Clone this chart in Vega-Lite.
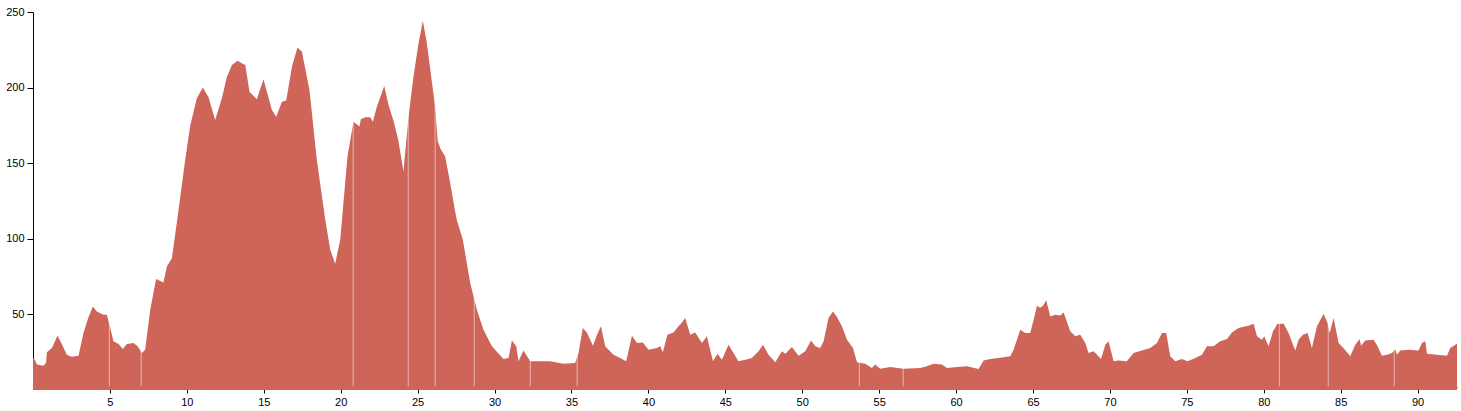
{
  "$schema": "https://vega.github.io/schema/vega-lite/v6.json",
  "width": 1424,
  "height": 375,
  "autosize": {"type": "none"},
  "padding": {"left": 33, "top": 12, "right": 4, "bottom": 24},
  "background": "white",
  "config": {
    "view": {"stroke": null},
    "axis": {"grid": false, "domainColor": "#000", "tickColor": "#000", "labelColor": "#000", "labelFont": "Liberation Sans", "labelFontSize": 11, "tickSize": 6, "title": null, "zindex": 1}
  },
  "datasets": {
    "profile": [
      {"d":0,"e":21.2},{"d":0.12,"e":20},{"d":0.25,"e":16.8},{"d":0.68,"e":16.1},{"d":0.85,"e":18},{"d":0.9,"e":24.9},{"d":1.23,"e":27.8},{"d":1.59,"e":35.9},{"d":1.75,"e":33},{"d":2.2,"e":23.4},{"d":2.5,"e":22},{"d":2.96,"e":22.7},{"d":3.28,"e":37.7},{"d":3.6,"e":48},{"d":3.89,"e":55.3},{"d":4.15,"e":52},{"d":4.58,"e":49.8},{"d":4.8,"e":49.8},{"d":5.0,"e":42},{"d":5.23,"e":32.2},{"d":5.56,"e":30.4},{"d":5.84,"e":27.1},{"d":6.1,"e":30.4},{"d":6.53,"e":31.1},{"d":6.8,"e":29},{"d":7.08,"e":24.5},{"d":7.29,"e":26.7},{"d":7.62,"e":53.1},{"d":8.0,"e":73.4},{"d":8.48,"e":71.1},{"d":8.7,"e":81.7},{"d":9.03,"e":87.2},{"d":9.46,"e":119},{"d":9.89,"e":152},{"d":10.22,"e":175},{"d":10.65,"e":193},{"d":11.04,"e":200},{"d":11.41,"e":193.6},{"d":11.84,"e":178.6},{"d":12.28,"e":193},{"d":12.6,"e":207},{"d":12.93,"e":215},{"d":13.3,"e":217.8},{"d":13.6,"e":216},{"d":13.8,"e":215},{"d":14.07,"e":197.3},{"d":14.55,"e":192.3},{"d":14.98,"e":205.5},{"d":15.53,"e":185.2},{"d":15.81,"e":180.8},{"d":16.18,"e":190.7},{"d":16.46,"e":191.4},{"d":16.83,"e":213.8},{"d":17.19,"e":226.6},{"d":17.48,"e":223.7},{"d":17.97,"e":198.4},{"d":18.45,"e":152.2},{"d":19.0,"e":112.5},{"d":19.32,"e":92.7},{"d":19.64,"e":83.5},{"d":19.97,"e":99.3},{"d":20.44,"e":154.4},{"d":20.83,"e":177.5},{"d":21.22,"e":174.2},{"d":21.31,"e":179},{"d":21.6,"e":180.4},{"d":21.92,"e":180.4},{"d":22.09,"e":177.5},{"d":22.35,"e":187.4},{"d":22.83,"e":201},{"d":23.11,"e":188.5},{"d":23.48,"e":176.4},{"d":23.76,"e":164.3},{"d":24.08,"e":144.5},{"d":24.41,"e":180.8},{"d":24.73,"e":207.2},{"d":25.06,"e":229.3},{"d":25.34,"e":244.2},{"d":25.6,"e":229.3},{"d":26.14,"e":187.4},{"d":26.3,"e":165},{"d":26.47,"e":159.9},{"d":26.79,"e":154.4},{"d":27.12,"e":136.8},{"d":27.44,"e":118},{"d":27.55,"e":112.5},{"d":27.94,"e":99.3},{"d":28.42,"e":70.7},{"d":28.85,"e":53.1},{"d":29.28,"e":39.9},{"d":29.83,"e":28.9},{"d":30.58,"e":20.5},{"d":30.91,"e":21.2},{"d":31.13,"e":32.8},{"d":31.41,"e":28.9},{"d":31.56,"e":19},{"d":31.88,"e":26.2},{"d":32.32,"e":19},{"d":32.97,"e":19},{"d":33.62,"e":19},{"d":34.48,"e":17.4},{"d":35.24,"e":17.9},{"d":35.46,"e":24.5},{"d":35.74,"e":41},{"d":36.0,"e":38.1},{"d":36.4,"e":29.3},{"d":36.66,"e":36.6},{"d":36.92,"e":42.1},{"d":37.19,"e":28.9},{"d":37.73,"e":23.4},{"d":38.17,"e":21.2},{"d":38.56,"e":19},{"d":38.93,"e":35.9},{"d":39.26,"e":31.1},{"d":39.64,"e":31.5},{"d":40.01,"e":26.7},{"d":40.55,"e":27.8},{"d":40.77,"e":28.9},{"d":40.94,"e":24.9},{"d":41.24,"e":36.6},{"d":41.63,"e":38.1},{"d":41.96,"e":42.1},{"d":42.18,"e":44.7},{"d":42.39,"e":47.6},{"d":42.72,"e":36.6},{"d":43.04,"e":38.1},{"d":43.48,"e":31.1},{"d":43.8,"e":35.5},{"d":44.2,"e":19},{"d":44.49,"e":24},{"d":44.78,"e":20.1},{"d":45.21,"e":30},{"d":45.53,"e":24.5},{"d":45.86,"e":19},{"d":46.3,"e":20.1},{"d":46.73,"e":21.2},{"d":47.16,"e":25.6},{"d":47.45,"e":30},{"d":47.81,"e":23.4},{"d":48.25,"e":18.3},{"d":48.68,"e":25.6},{"d":48.9,"e":24},{"d":49.33,"e":28.5},{"d":49.76,"e":22.7},{"d":50.2,"e":25.6},{"d":50.57,"e":32.8},{"d":50.85,"e":28.9},{"d":51.17,"e":27.8},{"d":51.39,"e":32.2},{"d":51.71,"e":47.6},{"d":52.0,"e":52},{"d":52.26,"e":48.3},{"d":52.58,"e":42.1},{"d":52.91,"e":33.3},{"d":53.3,"e":27.8},{"d":53.56,"e":18.3},{"d":54.1,"e":17.4},{"d":54.53,"e":14.6},{"d":54.74,"e":16.8},{"d":55.07,"e":14.1},{"d":55.72,"e":15.3},{"d":56.58,"e":14.1},{"d":57.67,"e":14.6},{"d":58.1,"e":15.7},{"d":58.54,"e":17.4},{"d":59.08,"e":16.8},{"d":59.41,"e":14.6},{"d":60.06,"e":15.3},{"d":60.71,"e":15.7},{"d":61.46,"e":13.9},{"d":61.79,"e":19.6},{"d":62.22,"e":20.5},{"d":62.76,"e":21.2},{"d":63.52,"e":22.3},{"d":63.74,"e":26.7},{"d":64.17,"e":39.9},{"d":64.5,"e":37.7},{"d":64.82,"e":37.7},{"d":65.04,"e":46.5},{"d":65.26,"e":55.7},{"d":65.47,"e":54.4},{"d":65.65,"e":55.7},{"d":65.86,"e":59.3},{"d":66.12,"e":48.7},{"d":66.45,"e":49.8},{"d":66.77,"e":49.3},{"d":66.99,"e":51.3},{"d":67.42,"e":38.8},{"d":67.75,"e":35.5},{"d":68.07,"e":36.6},{"d":68.4,"e":31.1},{"d":68.61,"e":24.5},{"d":68.94,"e":25.6},{"d":69.16,"e":23.4},{"d":69.42,"e":20.5},{"d":69.7,"e":30},{"d":69.91,"e":32.2},{"d":70.24,"e":19},{"d":70.56,"e":19.6},{"d":71.1,"e":19},{"d":71.54,"e":24.5},{"d":72.08,"e":26.2},{"d":72.62,"e":27.8},{"d":73.06,"e":31.1},{"d":73.38,"e":37.7},{"d":73.66,"e":37.7},{"d":73.92,"e":22.3},{"d":74.25,"e":19},{"d":74.68,"e":20.5},{"d":75.05,"e":19},{"d":75.55,"e":21.2},{"d":75.98,"e":23.4},{"d":76.31,"e":28.9},{"d":76.74,"e":28.9},{"d":77.17,"e":32.2},{"d":77.61,"e":33.7},{"d":77.93,"e":38.1},{"d":78.36,"e":41},{"d":78.69,"e":41.9},{"d":79.01,"e":42.5},{"d":79.34,"e":43.9},{"d":79.56,"e":35.5},{"d":79.88,"e":33.3},{"d":80.03,"e":35.5},{"d":80.31,"e":28.9},{"d":80.6,"e":38.8},{"d":80.9,"e":43.9},{"d":81.29,"e":43.9},{"d":81.61,"e":37.7},{"d":81.94,"e":28.9},{"d":82.05,"e":26.2},{"d":82.26,"e":33.3},{"d":82.55,"e":36.6},{"d":82.85,"e":37.7},{"d":83.13,"e":27.8},{"d":83.46,"e":42.1},{"d":83.89,"e":50.5},{"d":84.15,"e":44.3},{"d":84.28,"e":37.7},{"d":84.54,"e":47.6},{"d":84.86,"e":31.1},{"d":85.18,"e":27.8},{"d":85.62,"e":22.3},{"d":85.95,"e":30},{"d":86.23,"e":33.7},{"d":86.32,"e":29.2},{"d":86.6,"e":32.8},{"d":87.14,"e":33.3},{"d":87.4,"e":28.9},{"d":87.68,"e":22.7},{"d":88.01,"e":23.4},{"d":88.33,"e":24.5},{"d":88.55,"e":27},{"d":88.66,"e":23.4},{"d":88.87,"e":26.2},{"d":89.41,"e":26.7},{"d":90.06,"e":26.2},{"d":90.28,"e":31.1},{"d":90.5,"e":32.2},{"d":90.61,"e":24},{"d":91.26,"e":23.4},{"d":91.91,"e":22.7},{"d":92.12,"e":27.8},{"d":92.56,"e":30.6}
    ],
    "gaps": [
      {"d":4.96},{"d":7.03},{"d":20.81},{"d":24.39},{"d":26.14},{"d":28.68},{"d":32.32},{"d":35.37},{"d":53.71},{"d":56.56},{"d":81.01},{"d":84.19},{"d":88.48}
    ]
  },
  "layer": [
    {
      "data": {"name": "profile"},
      "mark": {"type": "area", "color": "#cf6459", "interpolate": "linear"},
      "encoding": {
        "x": {"field": "d", "type": "quantitative", "scale": {"domain": [0, 92.56], "nice": false, "zero": false},
              "axis": {"values": [5,10,15,20,25,30,35,40,45,50,55,60,65,70,75,80,85,90], "labelPadding": 3}},
        "y": {"field": "e", "type": "quantitative", "scale": {"domain": [2, 250], "nice": false, "zero": false},
              "axis": {"values": [50,100,150,200,250], "labelPadding": 3}}
      }
    },
    {
      "data": {"name": "gaps"},
      "mark": {"type": "rule", "color": "#ffffff", "strokeWidth": 1, "opacity": 0.55},
      "encoding": {
        "x": {"field": "d", "type": "quantitative"},
        "y": {"datum": 2.5},
        "y2": {"datum": 250}
      }
    }
  ]
}
